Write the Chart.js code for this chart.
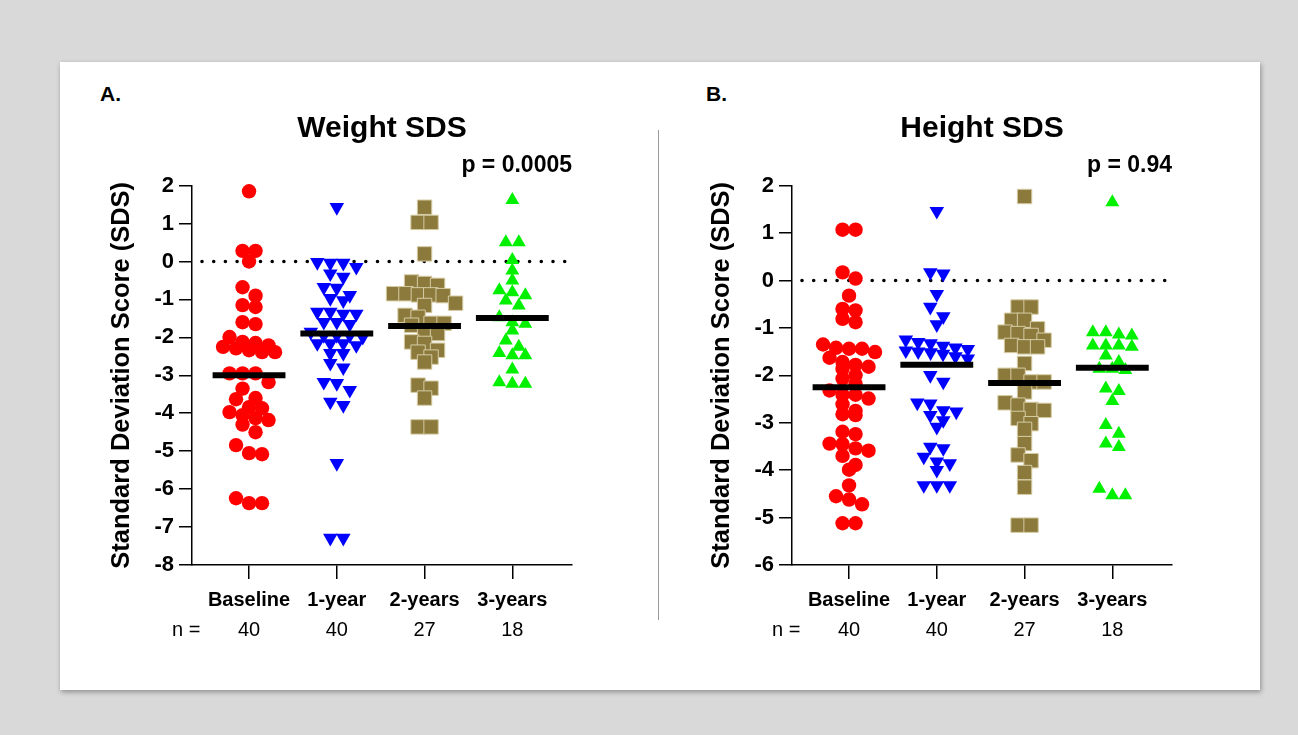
<!DOCTYPE html>
<html>
<head>
<meta charset="utf-8">
<script src="https://cdn.jsdelivr.net/npm/chart.js@4.4.1/dist/chart.umd.min.js"></script>
<style>
  body { margin: 0; background: #d9d9d9; width: 1298px; height: 735px; overflow: hidden;
         font-family: "Liberation Sans", Arial, sans-serif; }
  #card { position: absolute; left: 60px; top: 62px; width: 1200px; height: 628px; background: #fff;
          box-shadow: 1px 2px 5px rgba(0,0,0,0.35); }
  .panel { position: absolute; top: 28px; width: 500px; height: 555px; }
  .tag { position: absolute; top: 20px; font-weight: bold; font-size: 21px; color: #000; }
  #divider { position: absolute; left: 598px; top: 68px; width: 1px; height: 490px; background: #9a9a9a; }
</style>
</head>
<body>
<div id="card">
  <div class="tag" style="left:40px">A.</div>
  <div class="tag" style="left:646px">B.</div>
  <div id="divider"></div>
  <div class="panel" style="left:30px"><canvas id="weightChart" width="500" height="555"></canvas></div>
  <div class="panel" style="left:630px"><canvas id="heightChart" width="500" height="555"></canvas></div>
</div>
<script>
const groups = ["Baseline", "1-year", "2-years", "3-years"];
const counts = [40, 40, 27, 18];

const weightBaseline = [1.85, 0.28, 0.28, 0.0, -0.68, -0.9, -1.15, -1.2, -1.6, -1.65,
  -1.99, -2.15, -2.12, -2.21, -2.29, -2.25, -2.34, -2.39, -2.39, -2.95, -2.95, -2.95,
  -3.18, -3.35, -3.6, -3.63, -3.84, -3.87, -3.97, -4.05, -4.13, -4.18, -4.3, -4.5,
  -4.84, -5.05, -5.08, -6.24, -6.37, -6.37];
const weight1y = [1.43, -0.02, -0.04, -0.04, -0.15, -0.32, -0.41, -0.68, -0.7, -0.89,
  -0.97, -1.03, -1.33, -1.33, -1.38, -1.38, -1.6, -1.6, -1.65, -1.86, -1.95, -1.95,
  -1.99, -1.95, -2.16, -2.16, -2.21, -2.16, -2.42, -2.42, -2.68, -2.8, -3.18, -3.21,
  -3.39, -3.7, -3.79, -5.32, -7.29, -7.29];
const weight2y = [1.43, 1.03, 1.03, 0.2, -0.54, -0.58, -0.63, -0.85, -0.88, -0.88, -0.9,
  -0.85, -1.1, -1.16, -1.42, -1.47, -1.63, -1.68, -1.63, -1.9, -1.9, -2.12, -2.16,
  -2.34, -2.39, -2.52, -2.65, -3.26, -3.34, -3.6, -4.36, -4.36];
const weight3y = [1.62, 0.51, 0.51, 0.04, -0.24, -0.5, -0.89, -0.81, -0.76, -1.03, -1.16,
  -1.47, -1.6, -1.64, -1.82, -2.08, -2.25, -2.47, -2.41, -2.47, -2.85, -3.22, -3.22, -3.18];
const weightMeans = [-3.0, -1.9, -1.7, -1.49];

const heightBaseline = [1.07, 1.07, 0.17, 0.04, -0.32, -0.63, -0.6, -0.88, -0.81, -1.42,
  -1.51, -1.44, -1.44, -1.35, -1.63, -1.72, -1.78, -1.82, -1.86, -2.0, -2.07, -2.18,
  -2.32, -2.41, -2.41, -2.49, -2.61, -2.84, -2.82, -2.75, -3.19, -3.24, -3.45, -3.44,
  -3.7, -3.59, -3.54, -3.99, -3.89, -4.32, -4.55, -4.72, -4.62, -5.12, -5.12];
const height1y = [1.46, 0.17, 0.14, -0.29, -0.56, -0.76, -0.93, -1.25, -1.3, -1.33, -1.38,
  -1.42, -1.45, -1.48, -1.5, -1.52, -1.55, -1.6, -1.65, -2.0, -2.14, -2.58, -2.6, -2.77,
  -2.84, -2.74, -2.95, -3.09, -3.54, -3.51, -3.72, -3.82, -3.86, -4.0, -4.32, -4.32, -4.32];
const height2y = [1.77, -0.56, -0.56, -0.84, -0.84, -1.02, -1.26, -1.12, -1.4, -1.16, -1.4,
  -1.09, -1.37, -1.75, -2.0, -2.35, -2.14, -2.14, -2.0, -2.72, -2.58, -2.74, -2.63, -3.02,
  -2.91, -3.14, -3.44, -3.8, -3.68, -4.05, -4.36, -5.16, -5.16];
const height3y = [1.65, -1.09, -1.14, -1.09, -1.16, -1.37, -1.4, -1.37, -1.37, -1.58, -1.72,
  -1.86, -1.89, -1.86, -2.33, -2.28, -2.54, -3.05, -3.23, -3.51, -3.44, -4.53, -4.39, -4.53];
const heightMeans = [-2.25, -1.78, -2.16, -1.84];

const FONT = '"Liberation Sans", Arial, sans-serif';
Chart.defaults.font.family = FONT;
Chart.defaults.color = "#000";

const markers = [
  { pointStyle: "circle", radius: 7.2, rotation: 0, color: "#ff0000", border: "#ff0000", size: 14 },
  { pointStyle: "triangle", radius: 8.4, rotation: 180, color: "#0000ff", border: "#0000ff", size: 14 },
  { pointStyle: "rect", radius: 10.2, rotation: 0, color: "#8c7a3c", border: "#d6cca4", size: 14 },
  { pointStyle: "triangle", radius: 8.0, rotation: 0, color: "#00f000", border: "#00f000", size: 14 }
];

const X_MIN = 0.35;
const X_MAX = 4.68;

// n = row under the category labels
const nRowPlugin = {
  id: "nRow",
  afterDraw(chart) {
    const { ctx, chartArea } = chart;
    const xs = chart.scales.x;
    const y = xs.top + 65;
    ctx.save();
    ctx.font = "20px " + FONT;
    ctx.fillStyle = "#000";
    ctx.textBaseline = "middle";
    ctx.textAlign = "left";
    ctx.fillText("n =", chartArea.left - 20, y);
    ctx.textAlign = "center";
    counts.forEach((n, i) => ctx.fillText(String(n), xs.getPixelForValue(i + 1), y));
    ctx.restore();
  }
};

// spread points of the same group sideways, row by row (Prism style)
function swarm(chart, groupValues) {
  const xs = chart.scales.x;
  const ys = chart.scales.y;
  const pxX = xs.getPixelForValue(1) - xs.getPixelForValue(0);
  const pxY = ys.getPixelForValue(0) - ys.getPixelForValue(1);
  groupValues.forEach((values, g) => {
    const m = markers[g];
    const sorted = values.slice().sort((a, b) => b - a);
    const rows = [];
    sorted.forEach(v => {
      const row = rows[rows.length - 1];
      if (row && (row[0] - v) * pxY < m.size * 0.7) row.push(v);
      else rows.push([v]);
    });
    const pts = [];
    rows.forEach(row => {
      const n = row.length;
      const step = n > 1 ? Math.min(m.size - 1, 62 / (n - 1)) : 0;
      row.forEach((v, i) => pts.push({ x: g + 1 + (i - (n - 1) / 2) * step / pxX, y: v }));
    });
    chart.data.datasets[g].data = pts;
  });
  chart.update("none");
}

function buildChart(id, title, pText, yMin, groupValues, means) {
  const datasets = groupValues.map((values, g) => ({
    type: "scatter",
    label: groups[g],
    data: values.map(v => ({ x: g + 1, y: v })),
    pointStyle: markers[g].pointStyle,
    pointRadius: markers[g].radius,
    pointRotation: markers[g].rotation,
    backgroundColor: markers[g].color,
    borderColor: markers[g].border,
    borderWidth: g === 2 ? 1 : 0,
    clip: false,
    order: 1
  }));
  means.forEach((m, g) => {
    datasets.push({
      type: "line",
      label: "mean",
      data: [{ x: g + 1 - 0.415, y: m }, { x: g + 1 + 0.415, y: m }],
      borderColor: "#000",
      borderWidth: 6,
      borderCapStyle: "butt",
      pointRadius: 0,
      order: 0
    });
  });
  datasets.push({
    type: "line",
    label: "zero",
    data: [{ x: X_MIN, y: 0 }, { x: X_MAX, y: 0 }],
    borderColor: "#000",
    borderWidth: 3.6,
    borderDash: [0, 11.7],
    borderDashOffset: 1.7,
    borderCapStyle: "round",
    pointRadius: 0,
    order: 2
  });

  const chart = new Chart(document.getElementById(id), {
    type: "scatter",
    data: { datasets },
    options: {
      responsive: false,
      animation: false,
      events: [],
      layout: { padding: { left: 17, right: 18, top: 0, bottom: 0 } },
      plugins: {
        legend: { display: false },
        tooltip: { enabled: false },
        title: {
          display: true, text: title, fullSize: false,
          font: { size: 30, weight: "bold" }, color: "#000",
          padding: { top: 21, bottom: 0 }
        },
        subtitle: {
          display: true, text: pText, fullSize: false, align: "end",
          font: { size: 23, weight: "bold" }, color: "#000",
          padding: { top: 5, bottom: 6 }
        }
      },
      scales: {
        x: {
          type: "linear", min: X_MIN, max: X_MAX,
          afterBuildTicks: s => { s.ticks = groups.map((g, i) => ({ value: i + 1 })); },
          afterFit: s => { s.height = 80; },
          ticks: {
            callback: (v, i) => groups[i],
            autoSkip: false, maxRotation: 0, padding: 9,
            font: { size: 20, weight: "bold" }, color: "#000"
          },
          grid: { drawOnChartArea: false, tickLength: 14, color: "#000", lineWidth: 1.5 },
          border: { color: "#000", width: 1.5 }
        },
        y: {
          min: yMin, max: 2,
          afterFit: s => { s.width = 85; },
          ticks: { stepSize: 1, padding: 5, font: { size: 22, weight: "bold" }, color: "#000" },
          grid: { drawOnChartArea: false, tickLength: 13, color: "#000", lineWidth: 1.5 },
          border: { color: "#000", width: 1.5 },
          title: {
            display: true, text: "Standard Deviation Score (SDS)",
            font: { size: 25.5, weight: "bold" }, color: "#000", padding: { top: 0, bottom: 0 }
          }
        }
      }
    },
    plugins: [nRowPlugin]
  });
  swarm(chart, groupValues);
  return chart;
}

buildChart("weightChart", "Weight SDS", "p = 0.0005", -8,
  [weightBaseline, weight1y, weight2y, weight3y], weightMeans);
buildChart("heightChart", "Height SDS", "p = 0.94", -6,
  [heightBaseline, height1y, height2y, height3y], heightMeans);
</script>
</body>
</html>
